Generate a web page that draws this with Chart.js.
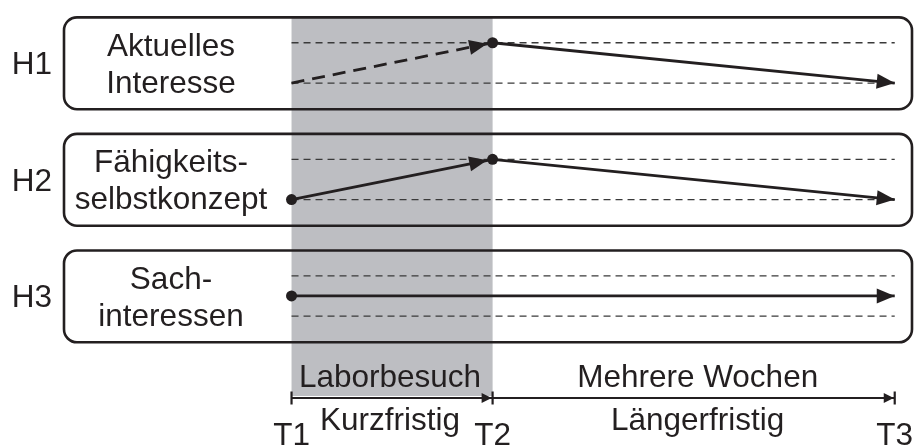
<!DOCTYPE html>
<html>
<head>
<meta charset="utf-8">
<script src="https://cdn.jsdelivr.net/npm/chart.js@4"></script>
<style>
html,body{margin:0;padding:0;background:#fff;}
#wrap{width:919px;height:446px;}
</style>
</head>
<body>
<div id="wrap"><canvas id="c" width="919" height="446"></canvas></div>
<script>
// ---------- data ----------
const timeLabels = ['T1', 'T2', 'T3'];
const timeValues = [0, 1, 3];               // relative duration: lab visit vs. several weeks
const hypotheses = ['H1', 'H2', 'H3'];
const constructs = [['Aktuelles', 'Interesse'], ['Fähigkeits-', 'selbstkonzept'], ['Sach-', 'interessen']];
const phaseLabels = ['Laborbesuch', 'Mehrere Wochen'];
const phaseTerms = ['Kurzfristig', 'Längerfristig'];
const referenceLevels = [0, 1];             // low / high level guides
const h1Levels = [0, 1, 0];
const h2Levels = [0, 1, 0];
const h3Levels = [0.5, 0.5, 0.5];
const h1Dots = [false, true, false];
const h2Dots = [true, true, false];
const h3Dots = [true, false, false];
const h1Dashed = [true, false];
const h2Dashed = [false, false];
const h3Dashed = [false, false];

// ---------- layout / style ----------
const INK = '#231f20';
const GREY = '#bdbec2';
const FONT = '31.5px "Liberation Sans", Arial, sans-serif';
const PANEL_GAP = 2.893;      // vertical distance between panels in level units
const DOT_R = 5.5;
const BOX_LEFT = 64, BOX_RIGHT = 912, BOX_R = 13;
const BOX_TOP_PAD = 0.63, BOX_BOTTOM_PAD = 0.65;
const TIMELINE_Y = 398;

const levels = [h1Levels, h2Levels, h3Levels];
const dots = [h1Dots, h2Dots, h3Dots];
const dashed = [h1Dashed, h2Dashed, h3Dashed];
const off = k => -k * PANEL_GAP;

const datasets = [];
// guide lines
hypotheses.forEach((h, k) => {
  referenceLevels.forEach(lv => {
    datasets.push({
      data: [{x: timeValues[0], y: lv + off(k)}, {x: timeValues[2], y: lv + off(k)}],
      borderColor: '#3a3a3a', borderWidth: 1.3, borderDash: [7, 5],
      pointRadius: 0, showLine: true, order: 5
    });
  });
});
// trend segments
hypotheses.forEach((h, k) => {
  const lv = levels[k], dt = dots[k], ds = dashed[k];
  let start = 0;
  for (let i = 1; i < lv.length; i++) {
    const last = i === lv.length - 1;
    if (last || dt[i]) {
      datasets.push({
        data: [{x: timeValues[start], y: lv[start] + off(k)}, {x: timeValues[i], y: lv[i] + off(k)}],
        borderColor: INK, borderWidth: 2.8,
        borderDash: ds[start] ? [13, 8] : [],
        pointRadius: 0, showLine: true, order: 3,
        arrow: true, arrowInset: dt[i] ? DOT_R : 0
      });
      start = i;
    }
  }
  // dots
  const dd = [];
  dt.forEach((d, i) => { if (d) dd.push({x: timeValues[i], y: lv[i] + off(k)}); });
  datasets.push({
    data: dd, pointRadius: DOT_R, pointBackgroundColor: INK, pointBorderColor: INK,
    pointBorderWidth: 0, showLine: false, order: 1
  });
});

function roundRect(ctx, x, y, w, h, r) {
  ctx.beginPath();
  ctx.moveTo(x + r, y);
  ctx.lineTo(x + w - r, y);
  ctx.arcTo(x + w, y, x + w, y + r, r);
  ctx.lineTo(x + w, y + h - r);
  ctx.arcTo(x + w, y + h, x + w - r, y + h, r);
  ctx.lineTo(x + r, y + h);
  ctx.arcTo(x, y + h, x, y + h - r, r);
  ctx.lineTo(x, y + r);
  ctx.arcTo(x, y, x + r, y, r);
  ctx.closePath();
}
function arrowHead(ctx, tx, ty, ang, len, hw) {
  ctx.beginPath();
  ctx.moveTo(tx, ty);
  ctx.lineTo(tx - len * Math.cos(ang) + hw * Math.sin(ang), ty - len * Math.sin(ang) - hw * Math.cos(ang));
  ctx.lineTo(tx - len * Math.cos(ang) - hw * Math.sin(ang), ty - len * Math.sin(ang) + hw * Math.cos(ang));
  ctx.closePath();
  ctx.fill();
}

const decor = {
  id: 'decor',
  beforeDatasetsDraw(chart) {
    const {ctx, scales: {x, y}} = chart;
    ctx.save();
    const boxTop = k => y.getPixelForValue(1 + BOX_TOP_PAD + off(k));
    const boxBot = k => y.getPixelForValue(0 - BOX_BOTTOM_PAD + off(k));
    // grey band: short-term phase
    const gx0 = x.getPixelForValue(timeValues[0]), gx1 = x.getPixelForValue(timeValues[1]);
    ctx.fillStyle = GREY;
    ctx.fillRect(gx0, boxTop(0), gx1 - gx0, TIMELINE_Y - 2 - boxTop(0));
    // boxes + labels
    ctx.strokeStyle = INK; ctx.lineWidth = 2.6;
    ctx.fillStyle = INK; ctx.font = FONT; ctx.textAlign = 'center'; ctx.textBaseline = 'alphabetic';
    hypotheses.forEach((h, k) => {
      const t = boxTop(k), b = boxBot(k), c = (t + b) / 2;
      roundRect(ctx, BOX_LEFT, t, BOX_RIGHT - BOX_LEFT, b - t, BOX_R);
      ctx.stroke();
      ctx.fillText(h, 32, c + 11);
      ctx.fillText(constructs[k][0], 171, c - 7.5);
      ctx.fillText(constructs[k][1], 171, c + 29.5);
    });
    // timeline
    const px = timeValues.map(v => x.getPixelForValue(v));
    ctx.lineWidth = 2.2;
    ctx.beginPath();
    ctx.moveTo(px[0], TIMELINE_Y); ctx.lineTo(px[2], TIMELINE_Y); ctx.stroke();
    px.forEach(p => {
      ctx.beginPath(); ctx.moveTo(p, TIMELINE_Y - 6.5); ctx.lineTo(p, TIMELINE_Y + 6.5); ctx.stroke();
    });
    arrowHead(ctx, px[1] - 1, TIMELINE_Y, 0, 10, 5);
    arrowHead(ctx, px[2] - 1, TIMELINE_Y, 0, 10, 5);
    // phase texts
    for (let i = 0; i < 2; i++) {
      const mid = (px[i] + px[i + 1]) / 2;
      const m = i === 0 ? mid - 2 : mid + 4;
      ctx.fillText(phaseLabels[i], m, 386.5);
      ctx.fillText(phaseTerms[i], m, 430);
    }
    timeLabels.forEach((t, i) => ctx.fillText(t, px[i], 445));
    ctx.restore();
  },
  afterDatasetsDraw(chart) {
    const {ctx} = chart;
    ctx.save();
    ctx.fillStyle = INK;
    chart.data.datasets.forEach((ds, i) => {
      if (!ds.arrow) return;
      const pts = chart.getDatasetMeta(i).data;
      const a = pts[pts.length - 2], b = pts[pts.length - 1];
      const ang = Math.atan2(b.y - a.y, b.x - a.x);
      const tx = b.x - ds.arrowInset * Math.cos(ang), ty = b.y - ds.arrowInset * Math.sin(ang);
      arrowHead(ctx, tx, ty, ang, 18, 7.5);
    });
    ctx.restore();
  }
};

const xUnit = 203.5, x0px = 289.5, W = 919, H = 446;
const yUnit = 41.3, yLow0px = 79.5;
new Chart(document.getElementById('c'), {
  type: 'scatter',
  data: {datasets},
  options: {
    responsive: false, animation: false, devicePixelRatio: 1,
    layout: {padding: 0},
    plugins: {legend: {display: false}, tooltip: {enabled: false}},
    scales: {
      x: {type: 'linear', display: false, min: -x0px / xUnit, max: (W - x0px) / xUnit},
      y: {type: 'linear', display: false, min: yLow0px / yUnit - H / yUnit, max: yLow0px / yUnit}
    }
  },
  plugins: [decor]
});
</script>
</body>
</html>
